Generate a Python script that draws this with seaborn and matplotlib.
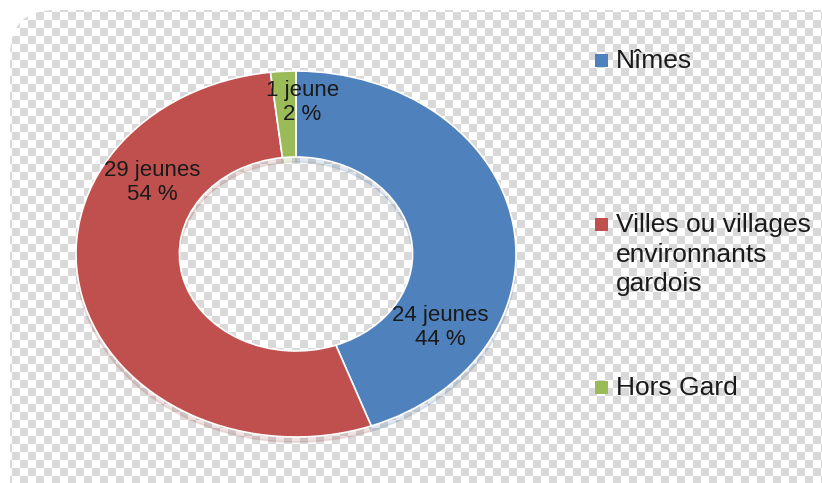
import numpy as np
import matplotlib
matplotlib.use("Agg")
import matplotlib.pyplot as plt
from matplotlib.patches import FancyBboxPatch, Rectangle
import seaborn as sns

# data
categories = ["Nîmes", "Villes ou villages\nenvironnants\ngardois", "Hors Gard"]
counts = [24, 29, 1]
percents = [44, 54, 2]
colors = ["#4F81BD", "#C0504D", "#9BBB59"]

sns.set_theme(style="white")
plt.rcParams["font.family"] = ["Liberation Sans", "DejaVu Sans"]

W, H = 822, 483
fig = plt.figure(figsize=(W / 100, H / 100), dpi=100)
fig.patch.set_facecolor("white")

# background: checkered rounded panel
bg = fig.add_axes([0, 0, 1, 1])
bg.set_xlim(0, W)
bg.set_ylim(H, 0)
bg.axis("off")
cell = 8
ny, nx = H // cell + 2, W // cell + 2
checker = (np.indices((ny, nx)).sum(axis=0) % 2).astype(float)
img = bg.imshow(checker, cmap=matplotlib.colors.ListedColormap(["#ffffff", "#d9d9d9"]),
                extent=(4, 4 + nx * cell, 4 + ny * cell, 4), interpolation="nearest",
                aspect="auto")
panel = FancyBboxPatch((10, 10), W + 40, H + 40, boxstyle="round,pad=0,rounding_size=45",
                       facecolor="none", edgecolor="none", transform=bg.transData)
bg.add_patch(panel)
img.set_clip_path(panel)

# donut
cx, cy, rx, ry = 296, 254, 220, 183
ax = fig.add_axes([(cx - rx) / W, (H - cy - ry) / H, 2 * rx / W, 2 * ry / H])
ax.patch.set_alpha(0)
wedges, _ = ax.pie(counts, colors=colors, startangle=90, counterclock=False,
                   radius=1, wedgeprops=dict(width=0.47, edgecolor="white", linewidth=1.2),
                   shadow=dict(ox=0.0, oy=-0.02, shade=0.2, alpha=0.15))
ax.set_aspect("auto")
ax.set_xlim(-1, 1)
ax.set_ylim(-1, 1)

label_pos = [(0.655, -0.40), (-0.655, 0.39), (0.03, 0.83)]
for i, (x, y) in enumerate(label_pos):
    word = "jeune" if counts[i] == 1 else "jeunes"
    ax.text(x, y, f"{counts[i]} {word}\n{percents[i]} %", ha="center", va="center",
            fontsize=16, color="#1a1a1a", linespacing=1.2)

# legend drawn by hand (entries are unevenly spaced in the reference)
legend_y = [60, 224, 387]
for i, name in enumerate(categories):
    y = legend_y[i]
    bg.add_patch(Rectangle((595, y - 6), 13, 13, facecolor=colors[i], edgecolor="none"))
    bg.text(616, y - 11, name, ha="left", va="top", fontsize=19, color="#1a1a1a",
            linespacing=1.3)

fig.savefig("out.png", dpi=100)
